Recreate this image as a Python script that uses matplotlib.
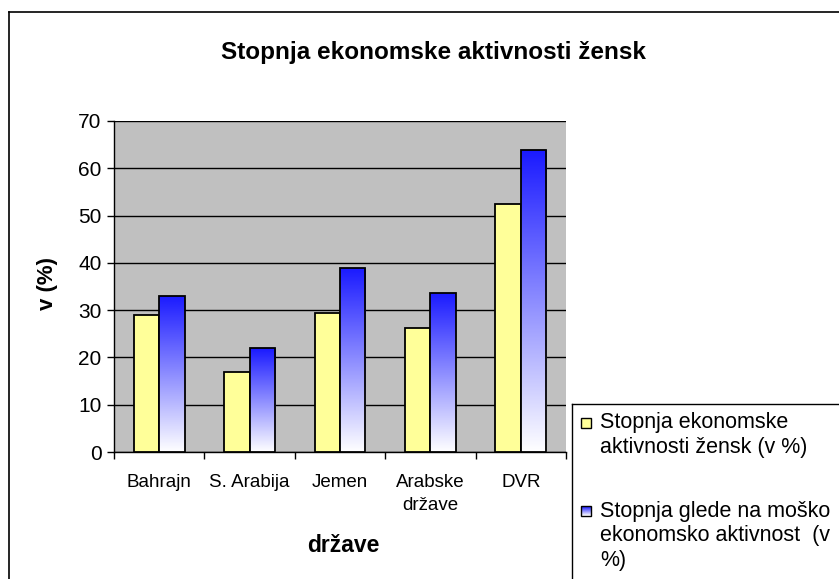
import numpy as np
import matplotlib
matplotlib.use("Agg")
import matplotlib.pyplot as plt
from matplotlib.patches import Rectangle
from matplotlib.lines import Line2D

plt.rcParams["font.family"] = ["Liberation Sans", "DejaVu Sans"]

categories = ["Bahrajn", "S. Arabija", "Jemen", "Arabske\ndržave", "DVR"]
zensk = [28.9, 17.0, 29.4, 26.3, 52.4]
glede_na_mosko = [33.0, 21.9, 39.0, 33.7, 63.9]
series_labels = [
    "Stopnja ekonomske\naktivnosti žensk (v %)",
    "Stopnja glede na moško\nekonomsko aktivnost  (v\n%)",
]

yellow = "#FFFF99"
blue_top = np.array([0.10, 0.10, 1.0])
white = np.array([1.0, 1.0, 1.0])


def blue_gradient(n=256):
    t = np.linspace(0, 1, n)[:, None]  # 0 at top, 1 at bottom
    cols = blue_top[None, :] * (1 - t) + white[None, :] * t
    return cols[:, None, :]


W, H = 839, 579


def fx(px):
    return px / W


def fy(py):
    return 1 - py / H


fig = plt.figure(figsize=(W / 100, H / 100), dpi=100)
ax = fig.add_axes([fx(114), fy(452), (566 - 114) / W, (452 - 121) / H])
ax.set_facecolor("#C0C0C0")

x = np.arange(len(categories))
bw = 0.28
bars1 = ax.bar(x - bw / 2, zensk, bw, color=yellow, edgecolor="black",
               lw=1.3, zorder=3)
bars2 = ax.bar(x + bw / 2, glede_na_mosko, bw, color="none",
               edgecolor="black", lw=1.3, zorder=4)
grad = blue_gradient()
for b in bars2:
    x0, y0 = b.get_x(), b.get_y()
    im = ax.imshow(grad, extent=[x0, x0 + b.get_width(), y0, y0 + b.get_height()],
                   aspect="auto", zorder=3, interpolation="bilinear")
    im.set_clip_path(b)

ax.set_xlim(-0.5, len(categories) - 0.5)
ax.set_ylim(0, 70)
ax.set_yticks(np.arange(0, 71, 10))
ax.yaxis.grid(True, color="black", lw=1)
ax.set_axisbelow(True)

ax.set_xticks(x)
ax.set_xticklabels(categories, fontsize=13.5, linespacing=1.45)
ax.set_xticks(np.arange(-0.5, len(categories), 1), minor=True)
ax.tick_params(axis="x", which="major", length=0, pad=16)
ax.tick_params(axis="x", which="minor", length=5, width=1, direction="out")
ax.tick_params(axis="y", length=5, width=1, direction="out", labelsize=15,
               pad=4)

for s in ["top", "right"]:
    ax.spines[s].set_visible(False)
ax.spines["left"].set_linewidth(1)
ax.spines["bottom"].set_linewidth(1)

fig.text(fx(433), fy(52), "Stopnja ekonomske aktivnosti žensk",
         ha="center", va="center", fontsize=17.5, fontweight="bold")
fig.text(fx(48), fy(283), "v (%)", ha="center", va="center",
         rotation=90, fontsize=16, fontweight="bold")
fig.text(fx(343), fy(545), "države", ha="center", va="center",
         fontsize=16.5, fontweight="bold")

# chart border (only top and left visible)
fig.add_artist(Line2D([fx(8.5), 1.05], [fy(12), fy(12)],
                      transform=fig.transFigure, color="black", lw=1.2))
fig.add_artist(Line2D([fx(8.5), fx(8.5)], [-0.05, fy(12)],
                      transform=fig.transFigure, color="black", lw=1.2))

# legend border, running off the bottom/right edge like the original
fig.add_artist(Line2D([fx(572), 1.05], [fy(404), fy(404)],
                      transform=fig.transFigure, color="black", lw=1))
fig.add_artist(Line2D([fx(572), fx(572)], [-0.05, fy(404)],
                      transform=fig.transFigure, color="black", lw=1))

# legend keys
fig.add_artist(Rectangle((fx(581), fy(428)), 10 / W, 10 / H,
                         transform=fig.transFigure, facecolor=yellow,
                         edgecolor="black", lw=1, zorder=5))
n_steps = 10
for i in range(n_steps):
    t = i / (n_steps - 1)
    c = blue_top * (1 - t) + white * t
    fig.add_artist(Rectangle((fx(581), fy(506 + (i + 1))), 10 / W, 1 / H,
                             transform=fig.transFigure, facecolor=c,
                             edgecolor="none", zorder=5))
fig.add_artist(Rectangle((fx(581), fy(516)), 10 / W, 10 / H,
                         transform=fig.transFigure, facecolor="none",
                         edgecolor="black", lw=1, zorder=6))

# legend text, one line at a time
first_baselines = [428, 517]
line_step = 24.5
for label, base in zip(series_labels, first_baselines):
    for k, line in enumerate(label.split("\n")):
        fig.text(fx(600), fy(base + k * line_step), line, ha="left",
                 va="baseline", fontsize=15.5, zorder=7)

fig.savefig("out.png", dpi=100)
